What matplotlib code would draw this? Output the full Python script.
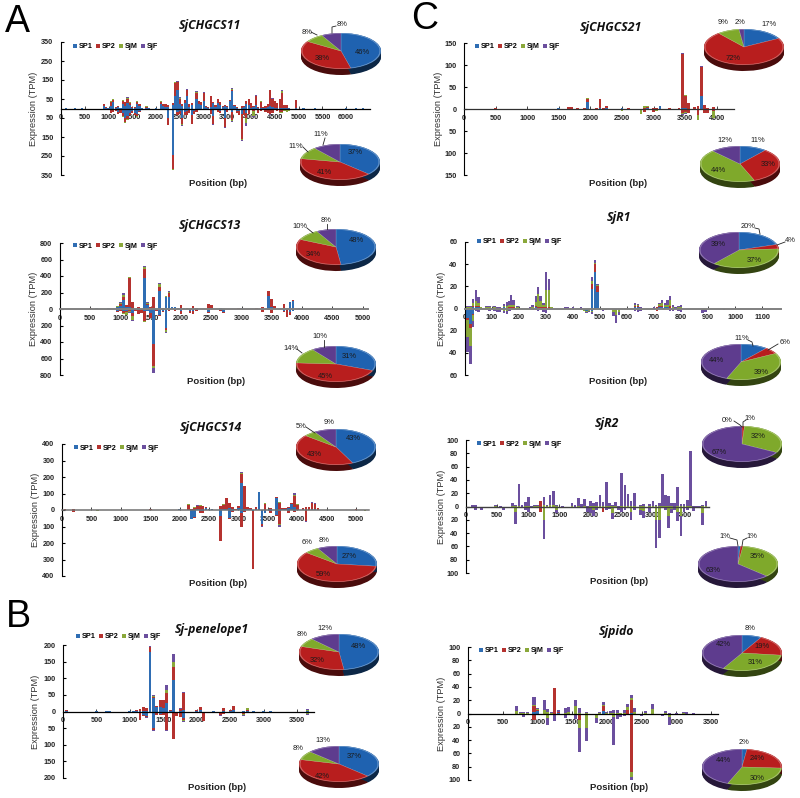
import numpy as np
import matplotlib
matplotlib.use("Agg")
import matplotlib.pyplot as plt

plt.rcParams['font.family'] = ['Liberation Sans', 'DejaVu Sans']

W, H = 800, 798

series_names = ["SP1", "SP2", "SjM", "SjF"]
bar_colors = ["#2f6db3", "#b5322f", "#8aa83a", "#6b4f9e"]
pie_colors = ["#1f62b0", "#b81e1e", "#7fa92b", "#5e3c8e"]

# every row: position, SP1, SP2, SjM, SjF
chgcs11_up = [
    [100,1,1,0,0],[300,2,1,1,0],[450,2,1,0,0],[900,12,12,1,1],[950,5,5,0,0],[1000,3,2,0,0],
    [1050,15,20,2,1],[1100,35,12,2,2],[1150,5,3,0,0],[1200,8,5,0,0],[1250,3,2,0,0],
    [1300,25,15,3,2],[1350,15,18,0,0],[1400,30,22,3,3],[1450,20,10,2,0],[1500,5,5,0,0],
    [1550,5,3,0,0],[1600,25,10,2,2],[1650,15,8,0,0],[1700,3,2,0,0],[1800,5,5,1,1],
    [1850,3,2,0,0],[2000,2,2,0,0],[2100,25,10,2,1],[2150,15,10,0,0],[2200,10,12,0,0],
    [2250,10,6,0,0],[2350,20,8,1,1],[2400,65,70,3,3],[2450,100,38,3,4],[2500,25,25,5,5],
    [2550,15,10,0,0],[2600,30,15,0,0],[2650,65,30,3,3],[2700,10,15,0,0],[2750,20,10,0,0],
    [2850,50,30,5,5],[2900,25,15,0,0],[2950,20,15,0,0],[3000,40,40,3,2],[3050,8,5,0,0],
    [3100,5,3,0,0],[3150,10,55,0,0],[3200,30,5,0,0],[3250,10,10,0,0],[3300,30,22,0,0],
    [3350,20,15,0,0],[3400,10,5,0,0],[3450,15,5,0,0],[3500,10,5,0,0],[3550,40,5,0,0],
    [3600,90,10,3,3],[3650,15,5,0,0],[3700,5,5,0,0],[3800,5,10,0,0],[3850,8,5,0,0],
    [3900,25,15,0,0],[3950,20,30,2,0],[4000,3,25,0,0],[4050,10,5,0,0],[4100,20,45,3,2],
    [4150,3,3,0,0],[4200,5,30,2,0],[4250,5,5,0,0],[4300,5,10,0,0],[4350,10,15,0,0],
    [4400,15,80,3,2],[4450,10,40,2,2],[4500,5,35,0,0],[4550,3,25,2,0],[4600,5,45,0,0],
    [4650,5,75,10,8],[4700,2,15,0,0],[4750,2,15,0,0],[4800,2,2,0,0],[4950,3,40,1,1],
    [5100,3,1,0,0],[5350,2,1,0,0],[6000,2,0,0,0],[6200,3,0,0,0],[6350,4,1,0,0],
]
chgcs11_down = [
    [1000,5,3,0,0],[1050,10,15,0,0],[1100,10,8,0,0],[1150,5,10,0,0],[1200,20,8,0,0],
    [1250,10,15,0,0],[1300,25,15,3,3],[1350,50,20,4,3],[1400,40,15,3,2],[1450,25,10,0,0],
    [1500,15,8,0,0],[1550,25,10,0,0],[1600,30,12,2,0],[1650,15,5,0,0],[2100,5,5,0,0],
    [2200,3,5,0,0],[2250,50,35,2,1],[2350,245,75,3,1],[2450,20,15,0,0],[2500,15,15,0,0],
    [2550,50,30,5,5],[2600,20,15,0,0],[2650,15,20,0,0],[2700,10,15,0,0],[2750,35,45,2,2],
    [2800,15,15,0,0],[2850,5,15,0,0],[3000,5,5,0,0],[3150,10,20,0,0],[3200,40,40,3,3],
    [3300,5,15,0,0],[3350,15,10,0,0],[3450,50,45,3,2],[3500,10,10,0,0],[3600,20,40,5,5],
    [3700,15,10,0,0],[3750,15,20,0,0],[3800,30,130,5,8],[3850,10,25,0,0],[3900,25,25,25,15],
    [3950,10,20,0,0],[4050,5,10,25,3],[4150,5,20,0,0],[4200,3,8,0,0],[4300,3,15,0,0],
    [4350,5,20,0,0],[4400,3,25,3,2],[4450,5,20,0,0],[4550,3,10,0,0],[4600,2,15,5,3],
    [4650,5,15,5,0],[4700,2,8,2,0],[4750,3,5,10,3],[4800,2,3,8,0],
]

chgcs13_up = [
    [500,5,3,1,1],[600,8,5,1,1],[800,8,5,1,1],[900,3,2,0,0],[950,25,5,2,2],[1000,40,20,10,10],
    [1050,110,30,30,20],[1100,30,15,0,0],[1150,20,360,5,5],[1200,15,70,0,0],[1300,15,10,2,0],
    [1400,380,105,25,15],[1450,50,10,15,15],[1500,15,5,0,0],[1550,5,140,3,2],[1650,220,50,30,15],
    [1700,10,5,0,0],[1750,140,10,3,2],[1800,150,50,5,8],[1850,20,5,0,0],[1900,25,5,0,0],
    [1950,10,5,0,0],[2000,15,30,2,0],[2050,10,5,0,0],[2100,5,5,0,0],[2200,10,30,0,0],
    [2250,5,5,0,0],[2450,10,45,0,0],[2500,10,35,0,0],[2650,10,2,0,0],[2950,5,2,0,0],
    [3000,8,2,0,0],[3250,5,2,0,0],[3350,5,15,0,0],[3450,160,55,5,2],[3500,30,90,0,0],
    [3550,10,25,0,0],[3700,15,40,0,0],[3750,10,5,0,0],[3800,85,5,0,0],[3850,100,8,0,0],
    [3950,10,5,0,0],[4500,5,1,0,0],[5000,5,1,0,0],
]
chgcs13_down = [
    [900,5,0,0,0],[950,30,2,0,3],[1000,10,10,5,5],[1050,30,20,10,5],[1100,30,10,30,5],
    [1150,10,20,10,5],[1200,50,30,50,15],[1250,10,15,0,0],[1300,10,50,0,0],[1350,15,35,0,0],
    [1400,30,120,2,3],[1450,20,10,0,0],[1500,50,60,0,0],[1550,420,270,30,50],[1600,10,15,0,0],
    [1650,70,15,3,2],[1700,30,10,0,0],[1750,235,20,20,10],[1800,15,10,0,0],[1900,10,10,0,0],
    [2000,20,40,0,0],[2150,30,15,3,0],[2200,20,40,0,0],[2250,5,15,0,0],[2450,40,10,0,0],
    [2650,10,15,0,0],[2700,40,5,0,0],[3250,5,0,0,0],[3350,10,25,0,0],[3450,10,5,0,0],
    [3500,15,30,0,0],[3700,30,5,0,0],[3750,5,90,0,0],[3800,40,30,0,0],[3850,20,5,0,0],
]

chgcs14_up = [
    [50,3,1,0,0],[200,2,3,0,0],[600,2,1,0,0],[900,2,1,0,0],[1050,2,1,0,0],[1200,1,1,0,0],
    [1500,3,1,0,0],[2000,4,2,1,1],[2150,3,30,2,0],[2200,2,5,0,0],[2250,3,12,1,0],[2300,4,22,1,1],
    [2350,3,24,1,0],[2400,4,20,1,0],[2450,14,4,0,0],[2500,5,3,0,0],[2550,7,2,0,0],[2700,4,20,1,0],
    [2750,5,28,1,1],[2800,5,65,2,1],[2850,15,28,1,1],[2900,5,14,1,0],[2950,3,5,0,0],[3000,12,10,2,1],
    [3050,165,55,5,3],[3100,8,135,1,1],[3150,5,15,0,0],[3200,4,10,0,0],[3300,5,15,0,0],
    [3350,110,1,1,0],[3450,3,35,2,0],[3550,5,10,0,0],[3650,75,2,0,0],[3700,2,43,1,0],[3750,5,5,0,0],
    [3800,5,5,0,0],[3850,10,10,0,0],[3900,35,8,1,1],[3950,20,65,8,12],[4000,3,30,1,1],[4100,5,5,0,0],
    [4150,3,17,0,0],[4200,3,17,0,0],[4250,5,35,3,7],[4300,5,33,1,1],[4350,3,12,0,0],[5000,3,1,0,0],
]
chgcs14_down = [
    [200,3,10,0,0],[600,1,1,2,4],[2200,52,5,0,0],[2250,42,5,0,0],[2350,5,12,0,0],[2400,6,10,0,0],
    [2700,35,150,3,2],[2850,48,4,1,0],[2900,8,6,0,0],[3050,20,80,3,3],[3100,8,4,0,0],[3250,5,355,0,0],
    [3400,85,10,3,2],[3450,18,2,0,0],[3550,8,12,0,0],[3650,32,3,0,0],[3700,5,80,5,10],[3850,4,16,0,0],
    [3950,5,5,0,0],[4150,3,65,1,1],[5150,2,1,1,3],
]

penelope_up = [
    [50,3,1,0,0],[500,1,1,0,0],[650,2,1,0,0],[700,1,1,0,0],[1000,1,1,0,0],[1050,1,1,0,0],
    [1100,2,3,0,0],[1150,3,5,0,0],[1200,3,12,0,0],[1250,2,8,0,0],[1300,178,15,2,3],[1350,40,5,3,3],
    [1400,15,2,0,0],[1450,15,20,0,0],[1500,10,25,0,0],[1550,25,30,10,15],[1600,3,2,0,0],
    [1650,95,40,15,23],[1750,3,5,1,1],[1800,5,50,2,2],[2000,3,2,0,0],[2050,5,10,0,0],[2250,1,2,0,0],
    [2400,3,8,0,0],[2500,3,2,0,0],[2550,5,12,0,0],[2700,1,2,0,0],[2750,3,3,5,1],[2850,1,2,0,0],
    [3000,1,1,0,0],[3100,1,0,0,0],[3650,1,2,3,3],
]
penelope_down = [
    [1150,5,20,0,0],[1200,10,3,0,0],[1250,15,2,1,2],[1350,50,5,2,2],[1400,5,5,2,0],[1450,8,2,0,0],
    [1500,5,5,0,0],[1550,5,50,1,2],[1650,3,80,0,0],[1700,3,12,0,0],[1750,5,12,0,0],[1800,20,5,3,5],
    [1850,2,1,0,0],[2000,1,1,0,0],[2100,3,25,1,1],[2150,3,2,0,0],[2200,3,2,0,0],[2350,5,5,2,2],
    [2400,5,3,0,0],[2650,3,2,0,0],[2700,5,3,2,3],[2900,2,1,0,0],[3650,3,2,3,2],
]

chgcs21_up = [
    [500,1,1,0,0],[1000,1,0,0,0],[1500,2,1,0,0],[1650,1,3,1,0],[1700,1,4,0,0],[1800,1,1,0,0],
    [1900,1,2,0,0],[1950,15,8,1,1],[2100,1,1,0,0],[2150,2,20,0,0],[2200,1,2,0,0],[2250,2,4,1,0],
    [2500,2,1,0,0],[2600,1,1,0,0],[2700,1,0,0,0],[2800,1,0,0,0],[2850,1,1,5,0],[2900,2,3,2,0],
    [3000,1,1,0,0],[3050,1,1,0,0],[3100,6,0,0,0],[3250,1,2,0,0],[3400,1,1,0,0],[3450,2,122,2,1],
    [3500,2,28,1,0],[3550,1,12,0,0],[3650,1,4,0,0],[3700,1,6,0,0],[3750,30,65,1,1],[3800,1,8,0,0],
    [3850,1,2,0,0],[3950,1,3,1,0],
]
chgcs21_down = [
    [1900,1,0,0,0],[2300,1,1,1,0],[2500,0,1,3,0],[2800,2,0,10,0],[2850,1,5,1,0],[2900,1,1,1,0],
    [3000,1,6,0,0],[3050,1,1,2,0],[3300,1,1,1,0],[3450,1,8,3,2],[3500,2,5,3,1],[3550,3,5,0,0],
    [3700,2,12,10,1],[3800,3,5,0,0],[3850,2,7,0,0],[3950,3,1,16,0],[4000,1,0,2,0],
]

sjr1_up = [
    [10,0,0,1,1],[20,0,0,1,1],[30,1,1,3,4],[40,1,1,5,10],[50,1,1,3,5],[60,0,0,1,0],[80,0,0,1,1],
    [90,0,0,1,1],[110,0,0,1,1],[120,0,0,0,1],[130,0,0,0,1],[145,1,0,1,2],[155,0,0,2,4],[165,0,1,2,4],
    [170,0,1,2,9],[180,0,1,2,5],[195,0,0,1,1],[240,0,0,0,1],[250,0,0,1,2],[262,1,1,4,5],[270,0,1,12,6],
    [280,0,1,6,4],[290,0,1,2,2],[300,0,1,16,16],[310,0,1,16,10],[320,0,0,1,0],[370,0,0,0,1],[380,0,0,0,1],
    [400,0,0,0,1],[430,0,0,0,1],[470,18,4,3,3],[481,33,7,1,3],[491,15,5,1,1],[630,1,1,1,2],[640,1,1,1,1],
    [650,0,0,0,1],[700,0,0,0,1],[710,0,1,0,0],[720,1,1,2,1],[730,1,1,3,3],[740,1,0,2,2],[750,1,0,2,5],
    [760,0,2,6,3],[770,0,0,1,2],[780,0,0,0,1],[790,0,0,1,1],[800,0,0,1,2],
]
sjr1_down = [
    [10,9,1,16,13],[20,14,4,16,16],[30,5,1,5,6],[40,1,0,0,1],[50,0,0,1,2],[80,0,0,1,0],[90,0,0,1,1],
    [110,0,0,1,1],[120,0,0,1,2],[130,0,0,1,2],[145,0,0,2,2],[155,0,0,2,3],[165,0,0,1,1],[195,0,0,0,1],
    [250,0,0,1,0],[262,0,0,0,1],[270,1,0,0,1],[280,0,0,0,1],[290,0,0,1,2],[300,0,0,1,3],[430,1,0,0,0],
    [440,1,0,1,0],[450,2,0,1,1],[460,1,0,1,1],[470,2,0,1,2],[500,0,0,0,1],[510,0,0,1,1],[520,0,0,0,1],
    [550,0,0,3,4],[560,1,0,5,7],[570,0,0,3,3],[630,0,0,1,1],[640,0,0,1,2],[650,0,0,1,1],[710,0,2,0,0],
    [760,0,0,1,1],[770,0,0,1,1],[790,0,0,1,1],[800,0,0,1,2],[880,0,0,1,3],[890,0,0,1,2],[960,0,0,0,1],
]

sjr2_up = [
    [100,0,0,0,2],[150,0,0,0,2],[470,0,0,1,2],[550,0,0,0,1],[750,0,0,1,4],[800,0,0,1,2],[850,0,0,1,33],
    [900,0,0,0,2],[950,0,0,1,6],[1000,0,0,1,14],[1050,0,0,0,1],[1100,0,0,1,1],[1150,0,0,1,2],
    [1200,0,8,0,1],[1250,0,0,2,12],[1300,0,0,1,2],[1350,0,0,2,16],[1400,0,0,2,22],[1450,0,0,1,2],
    [1550,0,0,0,1],[1700,0,0,1,4],[1750,0,0,0,2],[1800,0,0,1,12],[1850,0,0,0,4],[1900,0,0,1,11],
    [1950,0,0,0,1],[2000,0,0,1,7],[2050,0,0,1,4],[2100,0,0,1,6],[2150,0,0,1,16],[2200,0,0,1,6],
    [2250,0,0,1,36],[2300,0,0,1,4],[2350,0,0,1,1],[2400,0,0,1,6],[2450,0,0,0,1],[2500,0,0,1,49],
    [2550,0,0,1,32],[2600,0,0,1,18],[2650,0,0,1,8],[2700,0,0,1,19],[2800,0,0,1,2],[2850,0,0,1,3],
    [2950,0,0,1,3],[3000,0,0,1,8],[3050,0,0,1,1],[3100,0,0,1,5],[3150,0,0,1,48],[3200,0,0,1,16],
    [3250,0,0,1,15],[3300,0,0,1,5],[3350,0,0,0,5],[3400,0,0,1,29],[3450,0,0,1,3],[3500,0,0,1,3],
    [3550,0,0,1,9],[3600,0,0,1,82],[3650,0,0,0,1],[3700,0,0,0,1],[3750,0,0,0,1],[3800,0,0,1,1],
    [3850,0,0,1,7],
]
sjr2_down = [
    [150,0,0,0,6],[250,0,0,0,5],[530,0,0,0,2],[600,0,0,0,6],[750,0,0,0,2],[800,0,0,8,19],[950,0,0,0,5],
    [1000,0,0,1,7],[1050,0,0,0,2],[1200,0,8,1,0],[1250,0,0,21,28],[1350,0,0,1,2],[1450,0,0,6,4],
    [1950,0,0,3,5],[2000,0,0,3,7],[2050,0,0,5,10],[2100,0,0,2,4],[2200,0,9,0,0],[2250,0,0,2,3],
    [2300,0,0,1,3],[2350,0,0,10,9],[2450,0,0,2,4],[2500,0,0,3,5],[2550,0,0,2,3],[2600,0,0,1,2],
    [2650,0,0,8,13],[2700,0,0,2,4],[2800,0,0,5,8],[2850,0,0,7,10],[2950,0,0,3,5],[3050,0,0,20,42],
    [3100,0,0,20,27],[3150,0,0,1,2],[3200,0,0,2,4],[3250,0,0,14,18],[3300,0,0,4,6],[3350,0,0,2,4],
    [3400,0,0,8,14],[3450,0,0,15,29],[3500,0,0,3,5],[3550,0,0,2,3],[3650,0,0,2,5],[3800,0,0,10,18],
]

sjpido_up = [
    [700,0,0,4,8],[750,0,0,1,1],[800,0,0,1,2],[850,0,0,1,1],[950,2,9,2,12],[1000,4,2,1,2],[1100,0,0,5,16],
    [1150,0,0,3,4],[1200,0,0,1,1],[1250,0,39,0,0],[1300,1,1,0,3],[1400,0,0,1,7],[1450,0,0,3,7],
    [1550,0,0,12,9],[1600,0,0,1,7],[1700,0,0,1,1],[1900,0,0,1,1],[1950,4,8,1,4],[2000,0,0,1,2],
    [2050,0,0,1,3],[2100,0,0,1,4],[2150,0,0,1,5],[2200,0,0,1,0],[2250,0,0,1,4],[2300,0,5,5,4],
    [2350,1,20,2,5],[2400,0,0,3,5],[2550,0,0,1,3],[2650,0,0,7,8],[2850,0,0,1,3],[2900,0,0,0,1],
    [3000,0,0,0,1],[3100,0,0,1,1],[3150,0,0,0,2],[3250,0,0,0,1],
]
sjpido_down = [
    [700,0,0,0,1],[750,0,0,1,2],[800,0,0,2,3],[850,0,0,1,1],[950,0,10,0,0],[1150,0,0,7,10],[1250,0,0,0,12],
    [1400,0,0,1,6],[1550,0,0,3,5],[1600,0,10,12,36],[1700,0,0,22,19],[1850,0,0,7,7],[1900,0,0,1,2],
    [2100,0,0,5,42],[2150,0,0,2,6],[2200,0,0,1,4],[2250,0,0,1,3],[2300,0,0,1,2],[2350,3,85,7,5],
    [2500,0,0,1,3],[2800,0,0,1,3],[2900,0,0,6,12],
]

# pie percentages in order SP1, SP2, SjM, SjF
pie_11_top = [46, 38, 8, 8]
pie_11_bot = [37, 41, 11, 11]
pie_13_top = [48, 34, 10, 8]
pie_13_bot = [31, 45, 14, 10]
pie_14_top = [43, 43, 5, 9]
pie_14_bot = [27, 59, 6, 8]
pie_pen_top = [48, 32, 8, 12]
pie_pen_bot = [37, 42, 8, 13]
pie_21_top = [17, 72, 9, 2]
pie_21_bot = [11, 33, 44, 12]
pie_r1_top = [20, 4, 37, 39]
pie_r1_bot = [11, 6, 39, 44]
pie_r2_top = [0, 1, 32, 67]
pie_r2_bot = [1, 1, 35, 63]
pie_pido_top = [8, 19, 31, 42]
pie_pido_bot = [2, 24, 30, 44]

# layout in pixels of the picture
panels = [
    dict(title="SjCHGCS11", up=chgcs11_up, down=chgcs11_down, x0=61, x1=370, xmax=6500, xstep=500, xlast=6000,
         ytop=42, ybot=175, ymax=350, yticks=[350,250,150,50,-50,-150,-250,-350], bw=46, line="black", lw=0.9,
         tpos=(210,26), xlab=(218,183), ylab=33, leg=(73,47)),
    dict(title="SjCHGCS13", up=chgcs13_up, down=chgcs13_down, x0=60, x1=368, xmax=5090, xstep=500, xlast=5000,
         ytop=243, ybot=375, ymax=800, yticks=list(range(-800,801,200)), bw=45, line="#808080", lw=1.4,
         tpos=(210,226), xlab=(216,382), ylab=33, leg=(73,246)),
    dict(title="SjCHGCS14", up=chgcs14_up, down=chgcs14_down, x0=62, x1=369, xmax=5220, xstep=500, xlast=5000,
         ytop=444, ybot=576, ymax=400, yticks=list(range(-400,401,100)), bw=45, line="#707070", lw=1.1,
         tpos=(211,428), xlab=(218,583), ylab=35, leg=(74,448)),
    dict(title="Sj-penelope1", up=penelope_up, down=penelope_down, x0=63, x1=314, xmax=3750, xstep=500, xlast=3500,
         ytop=645, ybot=778, ymax=200, yticks=list(range(-200,201,50)), bw=44, line="black", lw=0.9,
         tpos=(212,629), xlab=(217,788), ylab=36, leg=(76,637)),
    dict(title="SjCHGCS21", up=chgcs21_up, down=chgcs21_down, x0=464, x1=734, xmax=4270, xstep=500, xlast=4000,
         ytop=43, ybot=175, ymax=150, yticks=list(range(-150,151,50)), bw=44, line="#303030", lw=0.9,
         tpos=(611,28), xlab=(618,183), ylab=439, leg=(475,47)),
    dict(title="SjR1", up=sjr1_up, down=sjr1_down, x0=465, x1=781, xmax=1170, xstep=100, xlast=1100,
         ytop=242, ybot=375, ymax=60, yticks=list(range(-60,61,20)), bw=9, line="#808080", lw=1.4,
         tpos=(619,217), xlab=(618,382), ylab=442, leg=(477,242)),
    dict(title="SjR2", up=sjr2_up, down=sjr2_down, x0=466, x1=709, xmax=3900, xstep=500, xlast=3500,
         ytop=440, ybot=573, ymax=100, yticks=list(range(-100,101,20)), bw=44, line="#404040", lw=1.0,
         tpos=(607,424), xlab=(619,581), ylab=441, leg=(477,444)),
    dict(title="Sjpido", up=sjpido_up, down=sjpido_down, x0=468, x1=718, xmax=3600, xstep=500, xlast=3500,
         ytop=647, ybot=780, ymax=100, yticks=list(range(-100,101,20)), bw=44, line="black", lw=0.9,
         tpos=(616,631), xlab=(619,788), ylab=442, leg=(479,651)),
]

# pie: values, centre x, top y, label pixels, leader lines
pies = [
    (pie_11_top, 341, 33, [(362,52),(322,58),(307,32),(342,25)], [[(311,32),(317,35)],[(336,26),(332,27),(332,33)]]),
    (pie_11_bot, 340, 144, [(355,153),(324,172),(296,146),(321,135)], [[(303,147),(308,152)],[(325,138),(323,145)]]),
    (pie_13_top, 336, 229, [(356,240),(313,254),(300,227),(326,221)], [[(307,228),(313,233)],[(327,224),(327,229)]]),
    (pie_13_bot, 336, 346, [(349,356),(325,376),(291,348),(320,337)], [[(297,349),(302,353)],[(324,340),(324,347)]]),
    (pie_14_top, 336, 429, [(353,439),(314,455),(301,427),(329,423)], [[(306,427),(315,433)]]),
    (pie_14_bot, 337, 546, [(349,556),(323,575),(307,543),(324,540)], []),
    (pie_pen_top, 339, 634, [(358,646),(317,660),(302,635),(325,628)], []),
    (pie_pen_bot, 339, 746, [(354,757),(322,776),(298,749),(323,741)], []),
    (pie_21_top, 744, 29, [(769,25),(733,58),(723,23),(740,22)], []),
    (pie_21_bot, 740, 146, [(758,140),(768,165),(718,171),(725,140)], []),
    (pie_r1_top, 739, 232, [(748,227),(790,240),(754,261),(718,245)], [[(755,228),(759,229),(760,234)],[(785,242),(777,245)]]),
    (pie_r1_bot, 741, 344, [(742,339),(785,343),(761,372),(716,361)], [[(748,340),(752,342),(753,346)],[(778,344),(768,350)]]),
    (pie_r2_top, 742, 426, [(727,420),(750,419),(758,436),(719,452)], [[(734,421),(740,425),(742,427)],[(746,420),(743,422),(743,427)]]),
    (pie_r2_bot, 738, 546, [(725,537),(752,537),(757,557),(713,570)], [[(730,538),(737,540),(738,546)],[(747,538),(743,540),(742,546)]]),
    (pie_pido_top, 742, 635, [(750,629),(762,647),(755,663),(723,645)], []),
    (pie_pido_bot, 742, 749, [(744,743),(757,759),(757,778),(723,760)], []),
]
big_letters = [("A", 17, 22), ("B", 18, 617), ("C", 425, 19)]

PIE_RX, PIE_RY, PIE_DEPTH = 40, 18, 6

fig = plt.figure(figsize=(W / 100, H / 100), dpi=100, facecolor="white")


def fx(px):
    return px / W


def fy(py):
    return 1 - py / H


def draw_stack(ax, rows, sign, width):
    rows = np.array(rows, dtype=float)
    base = np.zeros(len(rows))
    handles = []
    for i in range(4):
        vals = rows[:, i + 1]
        handles.append(ax.bar(rows[:, 0], sign * vals, width, bottom=sign * base,
                              color=bar_colors[i], linewidth=0, label=series_names[i], zorder=2))
        base += vals
    return handles


def draw_panel(p):
    ax = fig.add_axes([fx(p["x0"]), fy(p["ybot"]), fx(p["x1"] - p["x0"]), (p["ybot"] - p["ytop"]) / H])
    ax.patch.set_alpha(0)
    h = draw_stack(ax, p["up"], 1, p["bw"])
    draw_stack(ax, p["down"], -1, p["bw"])
    ax.set_xlim(0, p["xmax"])
    ax.set_ylim(-p["ymax"], p["ymax"])
    for s in ["top", "right"]:
        ax.spines[s].set_visible(False)
    ax.spines["bottom"].set_position(("data", 0))
    ax.spines["bottom"].set_color(p["line"])
    ax.spines["bottom"].set_linewidth(p["lw"])
    ax.spines["bottom"].set_zorder(3)
    ax.spines["left"].set_linewidth(0.8)
    xt = np.arange(0, p["xlast"] + 1, p["xstep"])
    ax.set_xticks(xt)
    ax.set_xticklabels([str(v) for v in xt], fontsize=5.2, fontweight="bold", color="#222222")
    ax.tick_params(axis="x", direction="in", length=2, width=0.6, pad=4, color="#222222")
    ax.set_yticks(p["yticks"])
    ax.set_yticklabels([str(abs(v)) for v in p["yticks"]], fontsize=5.2, fontweight="bold", color="#222222")
    ax.tick_params(axis="y", direction="in", length=2, width=0.8, pad=5.5)
    fig.text(fx(p["tpos"][0]), fy(p["tpos"][1]), p["title"], ha="center", va="center",
             family=["Open Sans", "DejaVu Sans"], style="italic", fontweight="bold", fontsize=8.8, color="#111111")
    fig.text(fx(p["xlab"][0]), fy(p["xlab"][1]), "Position (bp)", ha="center", va="center",
             fontweight="bold", fontsize=6.8, color="#222222")
    fig.text(fx(p["ylab"]), (fy(p["ytop"]) + fy(p["ybot"])) / 2, "Expression (TPM)", rotation=90,
             ha="center", va="center", fontsize=6.7, color="#333333")
    ax.legend(handles=h, ncol=4, loc="center left", frameon=False, borderpad=0, borderaxespad=0,
              bbox_to_anchor=(fx(p["leg"][0]), fy(p["leg"][1])), bbox_transform=fig.transFigure,
              handlelength=0.6, handleheight=0.6, handletextpad=0.25, columnspacing=0.4,
              prop={"size": 5.2, "weight": "bold"})


def shade(color, k):
    r, g, b = matplotlib.colors.to_rgb(color)
    return (r * k, g * k, b * k)


def tint(color, k):
    r, g, b = matplotlib.colors.to_rgb(color)
    return (r + (1 - r) * k, g + (1 - g) * k, b + (1 - b) * k)


def draw_pie(vals, cx, top):
    hgt = 2 * PIE_RY + PIE_DEPTH + 4
    wid = 2 * PIE_RX + 4
    ax = fig.add_axes([fx(cx - wid / 2), fy(top - 2 + hgt), fx(wid), hgt / H])
    kw = dict(startangle=90, counterclock=False)
    depth = PIE_DEPTH / PIE_RY
    for k in np.linspace(1, 0, 9):
        cols = [shade(c, 0.4 + 0.5 * k) for c in pie_colors]
        ax.pie(vals, colors=cols, center=(0, -depth * (1 - k)), **kw)
    ax.pie(vals, colors=[tint(c, 0.22) for c in pie_colors], **kw)
    ax.pie(vals, colors=pie_colors, radius=0.97, wedgeprops=dict(edgecolor=(1, 1, 1, 0.35), linewidth=0.3), **kw)
    ax.set_aspect("auto")
    ax.set_xlim(-wid / 2 / PIE_RX, wid / 2 / PIE_RX)
    ax.set_ylim(-(PIE_RY + PIE_DEPTH + 2) / PIE_RY, (PIE_RY + 2) / PIE_RY)
    ax.axis("off")


for p in panels:
    draw_panel(p)

for vals, cx, top, _, _ in pies:
    draw_pie(vals, cx, top)

# top layer in picture pixels for texts on pies and leaders
over = fig.add_axes([0, 0, 1, 1], zorder=10)
over.set_xlim(0, W)
over.set_ylim(H, 0)
over.axis("off")
for vals, _, _, label_px, leaders in pies:
    for v, (lx, ly) in zip(vals, label_px):
        over.text(lx, ly, f"{v}%", ha="center", va="center", fontsize=5.4, color="#1a1a1a")
    for pts in leaders:
        over.plot([q[0] for q in pts], [q[1] for q in pts], color="#222222", lw=0.6)
for s, lx, ly in big_letters:
    over.text(lx, ly, s, ha="center", va="center", fontsize=27, color="black")

fig.savefig("out.png", dpi=100)
